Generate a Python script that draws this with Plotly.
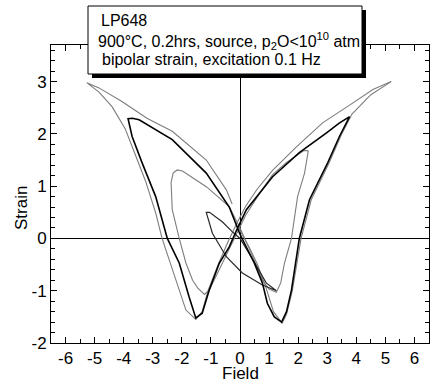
import plotly.graph_objects as go

# ---- data ----
outer_field = [5.2, 4.57, 3.77, 2.84, 1.94, 1.12, 0.6, 0.2, -0.1, -0.4, -0.75, -1.1, -1.3, -1.52,
               -1.86, -2.2, -2.68, -2.9, -3.25, -3.6, -3.95, -4.4, -4.85, -5.27,
               -4.85, -4.06, -3.2, -2.33, -1.16, -0.47, -0.27, None,
               -0.05, 0.3, 0.6, 0.9, 1.15, 1.45, 1.6, 1.8, 2.1, 2.45, 3.07, 3.5, 3.85, 4.5, 5.2]
outer_strain = [3.0, 2.85, 2.55, 2.21, 1.75, 1.3, 0.95, 0.62, 0.3, -0.05, -0.5, -1.0, -1.4, -1.55,
                -1.37, -0.8, 0.0, 0.49, 1.1, 1.6, 2.1, 2.52, 2.8, 2.98,
                2.88, 2.62, 2.3, 2.05, 1.5, 0.93, 0.66, None,
                0.2, -0.15, -0.5, -0.95, -1.4, -1.62, -1.45, -1.0, 0.0, 0.74, 1.45, 2.0, 2.38, 2.75, 3.0]

black_field = [3.77, 3.4, 3.0, 2.04, 1.12, 0.22, -0.1, -0.37, -0.71, -1.06, -1.3, -1.52,
               -1.75, -2.09, -2.5, -2.9, -3.37, -3.71, -3.85, -3.7, -3.47, -2.33, -1.16, -0.37,
               0.0, 0.49, 0.77, 0.94, 1.18, 1.43, 1.6, 1.77, 2.04, 2.39, 3.02, 3.42, 3.77]
black_strain = [2.33, 2.2, 2.03, 1.64, 1.18, 0.55, 0.18, -0.16, -0.47, -0.99, -1.43, -1.52,
                -1.12, -0.47, 0.0, 0.8, 1.45, 1.95, 2.29, 2.3, 2.27, 1.89, 1.25, 0.6,
                0.08, -0.47, -0.85, -1.24, -1.5, -1.6, -1.4, -0.99, 0.0, 0.74, 1.45, 1.95, 2.33]

mid_field = [2.35, 2.2, 1.59, 1.12, 0.6, 0.2, -0.15, -0.45, -0.8, -1.05, -1.22,
             -1.45, -1.63, -1.86, -2.09, -2.33, -2.37, -2.3, -2.16, -1.98, -1.16, -0.37,
             0.0, 0.4, 0.77, 1.0, 1.25, 1.4, 1.53, 1.77, 1.98, 2.22, 2.35]
mid_strain = [1.68, 1.68, 1.45, 1.22, 0.8, 0.45, 0.05, -0.3, -0.7, -0.98, -1.07,
              -0.95, -0.8, -0.47, 0.0, 0.55, 1.07, 1.25, 1.31, 1.29, 0.99, 0.61,
              0.2, -0.3, -0.8, -0.97, -1.03, -0.85, -0.47, 0.0, 0.8, 1.25, 1.68]

small_field = [1.25, 0.77, 0.08, -0.47, -0.95, -1.12, -1.16, -1.05, -0.61, -0.27, 0.0, 0.49, 0.9, 1.25]
small_strain = [-1.0, -0.89, -0.66, -0.35, 0.1, 0.4, 0.5, 0.5, 0.32, 0.13, 0.0, -0.45, -0.85, -1.0]

x_ticks = [-6, -5, -4, -3, -2, -1, 0, 1, 2, 3, 4, 5, 6]
y_ticks = [-2, -1, 0, 1, 2, 3]

FONT = "Arial, Liberation Sans, sans-serif"
W, H = 430, 385
ML, MR, MT, MB = 51, 1, 45, 42
PW, PH = W - ML - MR, H - MT - MB


def px(x):
    return (x - ML) / PW


def py(y):
    return (H - MB - y) / PH


fig = go.Figure()
fig.add_trace(go.Scatter(x=outer_field, y=outer_strain, mode="lines",
                         line=dict(color="rgb(125,125,125)", width=1.1), connectgaps=False))
fig.add_trace(go.Scatter(x=mid_field, y=mid_strain, mode="lines",
                         line=dict(color="rgb(125,125,125)", width=1.1)))
fig.add_trace(go.Scatter(x=small_field, y=small_strain, mode="lines",
                         line=dict(color="rgb(40,40,40)", width=1.2)))
fig.add_trace(go.Scatter(x=black_field, y=black_strain, mode="lines",
                         line=dict(color="black", width=1.6)))

axis_common = dict(showline=True, linecolor="black", linewidth=1, mirror="allticks",
                   ticks="inside", ticklen=6, tickcolor="black", showgrid=False,
                   zeroline=True, zerolinecolor="black", zerolinewidth=1,
                   tickfont=dict(family=FONT, size=17, color="black"))

fig.update_xaxes(range=[-6.5, 6.5], tickvals=x_ticks, ticktext=[str(v) for v in x_ticks],
                 minor=dict(ticks="inside", ticklen=4, dtick=0.5, tick0=0, tickcolor="black"),
                 **axis_common)
fig.update_yaxes(range=[-2, 3.7], tickvals=y_ticks, ticktext=[str(v) for v in y_ticks],
                 minor=dict(ticks="inside", ticklen=4, dtick=0.2, tick0=0, tickcolor="black"),
                 **axis_common)

# legend-like text box with shadow
fig.add_shape(type="rect", xref="paper", yref="paper", x0=px(92), x1=px(366), y0=py(78), y1=py(10),
              fillcolor="black", line=dict(width=0), layer="above")
fig.add_shape(type="rect", xref="paper", yref="paper", x0=px(88), x1=px(362), y0=py(74), y1=py(6),
              fillcolor="white", line=dict(color="black", width=1), layer="above")

lines = [("LP648", 99, 20),
         ("900°C, 0.2hrs, source, p<sub>2</sub>O&lt;10<sup>10</sup> atm", 96, 41),
         ("bipolar strain, excitation 0.1 Hz", 100, 60)]
for txt, xx, yy in lines:
    fig.add_annotation(text=txt, xref="paper", yref="paper", x=px(xx), y=py(yy),
                       xanchor="left", yanchor="middle", showarrow=False,
                       font=dict(family=FONT, size=16, color="black"))

fig.add_annotation(text="Strain", xref="paper", yref="paper", x=px(21), y=py(208),
                   textangle=-90, showarrow=False, xanchor="center", yanchor="middle",
                   font=dict(family=FONT, size=17, color="black"))
fig.add_annotation(text="Field", xref="paper", yref="paper", x=px(240), y=py(373),
                   showarrow=False, xanchor="center", yanchor="middle",
                   font=dict(family=FONT, size=17, color="black"))

fig.update_layout(width=W, height=H, margin=dict(l=ML, r=MR, t=MT, b=MB),
                  paper_bgcolor="white", plot_bgcolor="white", showlegend=False)

fig.write_html("out.html")
